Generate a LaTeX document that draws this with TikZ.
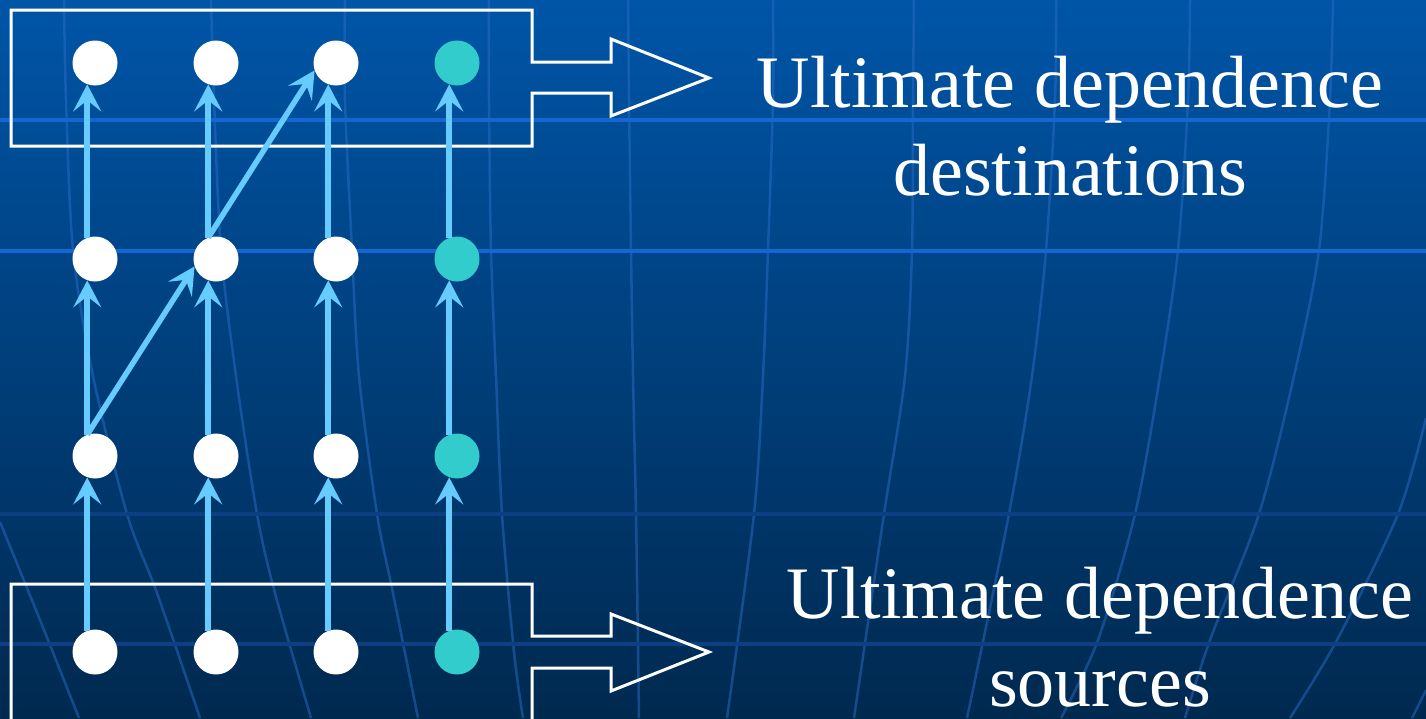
\documentclass[tikz,border=0pt]{standalone}
\usepackage{fontspec}
\setmainfont{Liberation Serif}
\usetikzlibrary{arrows.meta}
\definecolor{bgtop}{HTML}{0055A8}
\definecolor{bgbot}{HTML}{00294F}
\definecolor{gridhi}{HTML}{1466D2}
\definecolor{gridlo}{HTML}{0D3F85}
\definecolor{meridian}{HTML}{2A6CC8}
\definecolor{depblue}{HTML}{66CCFF}
\definecolor{teal}{HTML}{33CCCC}
\tikzset{
  dot/.style={circle, minimum size=45pt, inner sep=0pt, fill=white},
  tealdot/.style={dot, fill=teal},
  dep/.style={draw=depblue, line width=5.5pt,
    -{Stealth[length=27pt, width=28pt, inset=11pt]}},
  outline/.style={draw=white, line width=3pt, line join=miter},
  hline/.style={line width=4pt},
  mline/.style={draw=meridian, line width=2.5pt, opacity=0.5},
  caption/.style={text=white, align=center, anchor=base,
    font={\fontsize{74}{88}\selectfont}}
}
\begin{document}
\begin{tikzpicture}[x=1pt, y=-1pt]
\useasboundingbox (0,0) rectangle (1426,718);
% background
\shade[top color=bgtop, bottom color=bgbot] (0,0) rectangle (1426,718);
% globe meridians
\begin{scope}[mline]
  \draw plot[smooth] coordinates {(0,522) (40,620) (79,718)};
  \draw plot[smooth] coordinates {(64,0) (66,100) (73,250) (93,376) (127,514) (157,593) (200,718)};
  \draw plot[smooth] coordinates {(211,0) (214,100) (221,250) (236,376) (257,514) (275,593) (311,718)};
  \draw plot[smooth] coordinates {(345,0) (345,100) (352,250) (359,376) (377,514) (393,593) (418,718)};
  \draw plot[smooth] coordinates {(489,0) (489,100) (491,250) (496,376) (502,514) (514,652) (523,718)};
  \draw plot[smooth] coordinates {(628,0) (629,100) (631,250) (633,376) (636,514) (639,718)};
  \draw plot[smooth] coordinates {(773,0) (773,100) (768,250) (763,376) (754,514) (727,718)};
  \draw plot[smooth] coordinates {(914,0) (913,100) (912,250) (905,376) (884,514) (854,718)};
  \draw plot[smooth] coordinates {(1056,0) (1055,100) (1046,250) (1032,376) (1009,514) (967,718)};
  \draw plot[smooth] coordinates {(1190,0) (1188,100) (1178,250) (1160,376) (1135,514) (1098,640) (1061,718)};
  \draw plot[smooth] coordinates {(1333,0) (1330,100) (1319,250) (1294,376) (1259,514) (1210,640) (1185,718)};
  \draw plot[smooth] coordinates {(1426,418) (1398,514) (1337,640) (1290,718)};
  \draw plot[smooth] coordinates {(1426,690) (1412,718)};
\end{scope}
% horizontal grid lines
\draw[hline, gridhi] (0,120) -- (1426,120);
\draw[hline, gridhi] (0,251) -- (1426,251);
\draw[hline, gridlo] (0,514) -- (1426,514);
\draw[hline, gridlo] (0,644) -- (1426,644);
% box-and-arrow outlines
\draw[outline] (532,10) -- (532,62) -- (611,62) -- (611,39) -- (709,78)
  -- (611,116) -- (611,93) -- (532,93) -- (532,146) -- (11,146) -- (11,10) -- cycle;
\draw[outline] (532,584) -- (532,636) -- (611,636) -- (611,614) -- (709,652)
  -- (611,691) -- (611,668) -- (532,668) -- (532,722) -- (11,722) -- (11,584) -- cycle;
% iteration nodes
\foreach \c/\x in {1/95,2/216,3/336}
  \foreach \r/\y in {1/63,2/259,3/456,4/652}
    \node[dot] (n\c\r) at (\x,\y) {};
\foreach \r/\y in {1/63,2/259,3/456,4/652}
  \node[tealdot] (n4\r) at (457,\y) {};
% dependences
\foreach \c in {1,...,4}
  \foreach \r/\s in {4/3,3/2,2/1}
    \draw[dep] (n\c\r.110) -- (n\c\s.250);
\draw[dep] (n13.110) -- (n22.199);
\draw[dep] (n22.110) -- (n31.199);
% captions (base anchor sits on the last line)
\node[caption] (dst) at (1070,195) {Ultimate dependence\\destinations};
\node[caption] (src) at (1100,706) {Ultimate dependence\\sources};
\end{tikzpicture}
\end{document}
